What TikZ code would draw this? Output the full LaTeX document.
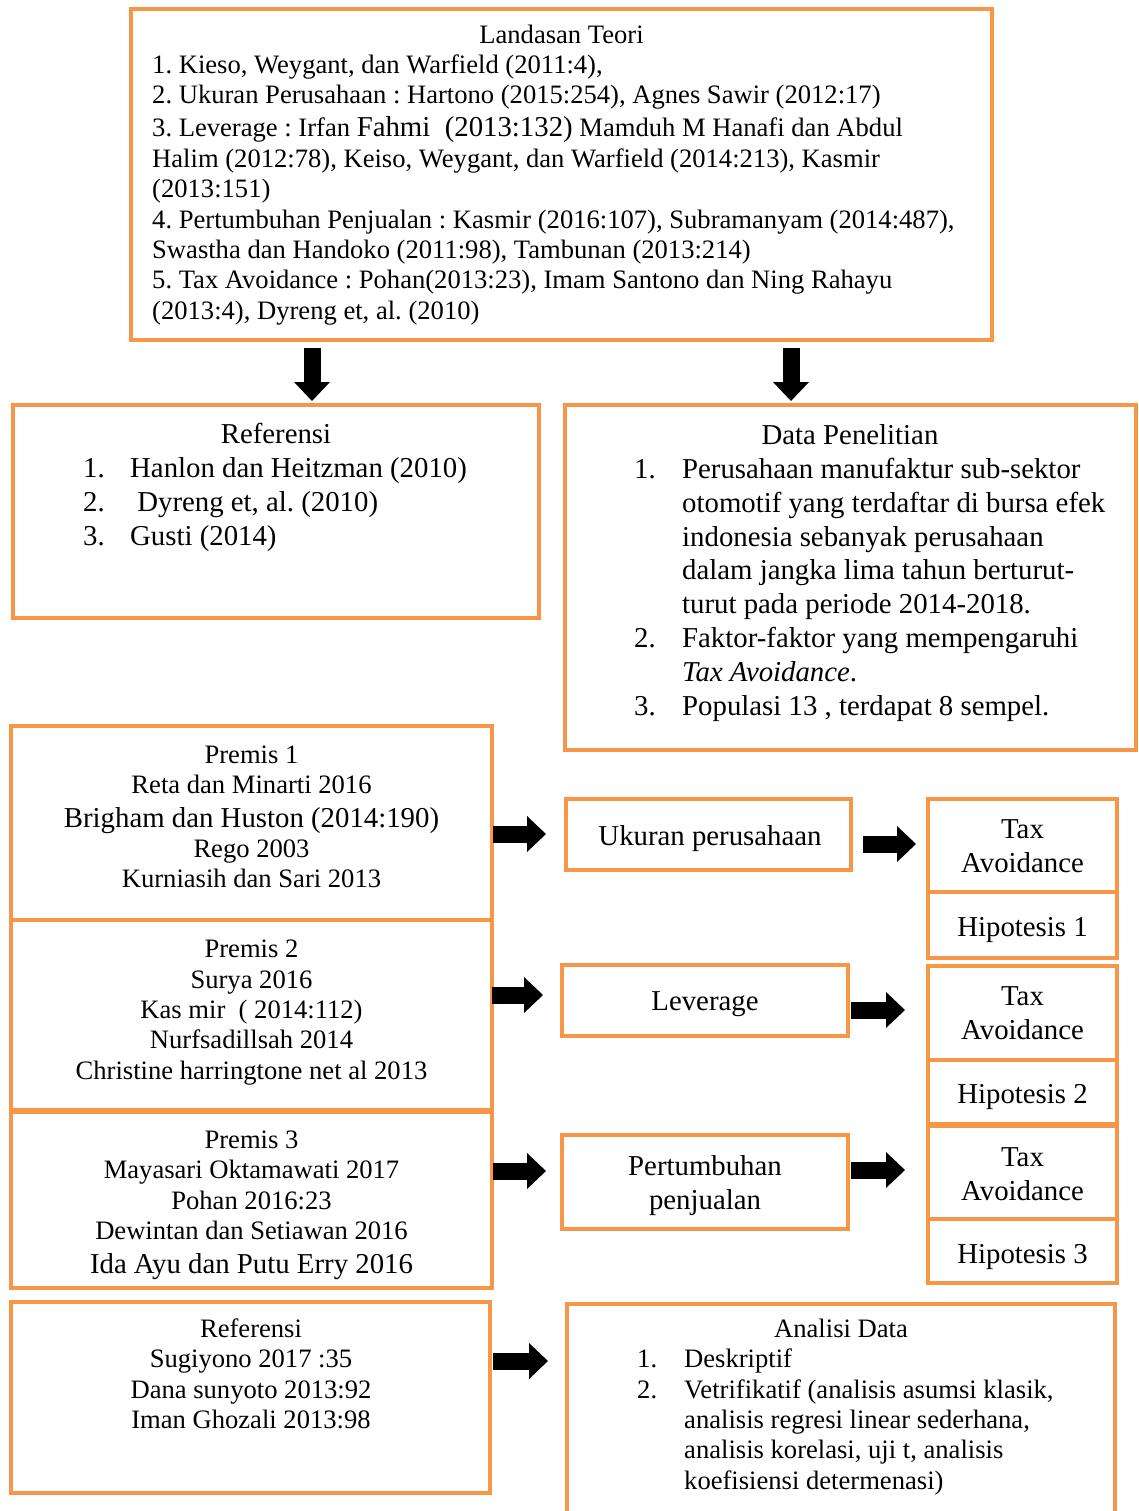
\documentclass[tikz,border=0pt]{standalone}
\usepackage{fontspec}
\setmainfont{Liberation Serif}
\usetikzlibrary{arrows.meta}
\definecolor{org}{RGB}{247,150,70}
\newcommand\fa{\rule{0pt}{20pt}}
\newcommand\fb{\rule{0pt}{22pt}}
\newcommand\bigf{\fontsize{28.8pt}{30.4pt}\selectfont}
\frenchspacing
\begin{document}
\frenchspacing
\begin{tikzpicture}[x=1pt,y=-1pt,
  box/.style={draw=org, line width=4pt, outer sep=0pt, inner sep=0pt, anchor=north west},
  ta/.style={inner sep=0pt, font=\fontsize{26.6pt}{30.4pt}\selectfont\frenchspacing},
  tb/.style={inner sep=0pt, font=\fontsize{28.8pt}{33.9pt}\selectfont\frenchspacing},
  blk/.style={line width=17pt, black, -{Triangle[length=19pt,width=36pt,line width=0pt]}}]
\useasboundingbox (0,0) rectangle (1138,1511);
\clip (0,0) rectangle (1138,1511);
% boxes
\node[box, minimum width=861pt, minimum height=331pt] (top) at (131,9) {};
\node[box, minimum width=526pt, minimum height=213pt] (ref1) at (13,405) {};
\node[box, minimum width=571pt, minimum height=345pt] (data) at (565,405) {};
\node[box, minimum width=481pt, minimum height=194pt] (p1) at (11,726) {};
\node[box, minimum width=481pt, minimum height=190pt] (p2) at (11,920) {};
\node[box, minimum width=481pt, minimum height=176pt] (p3) at (11,1112) {};
\node[box, minimum width=479pt, minimum height=191pt] (ref2) at (11,1302) {};
\node[box, minimum width=548pt, minimum height=226pt] (ana) at (567,1304) {};
\node[box, minimum width=285pt, minimum height=71pt] (uk) at (566,799) {};
\node[box, minimum width=286pt, minimum height=71pt] (lev) at (562,965) {};
\node[box, minimum width=286pt, minimum height=94pt] (pert) at (562,1135) {};
\node[box, minimum width=189pt, minimum height=93pt] (t1) at (928,799) {};
\node[box, minimum width=189pt, minimum height=66pt] (h1) at (928,892) {};
\node[box, minimum width=189pt, minimum height=94pt] (t2) at (928,966) {};
\node[box, minimum width=189pt, minimum height=64pt] (h2) at (928,1060) {};
\node[box, minimum width=189pt, minimum height=93pt] (t3) at (928,1126) {};
\node[box, minimum width=189pt, minimum height=64pt] (h3) at (928,1219) {};
% texts
\node[ta, anchor=north] (topT) at (561.5,23) {\fa Landasan Teori};
\node[ta, anchor=north west, align=left] (topL) at (152,53.4) {\fa 1. Kieso, Weygant, dan Warfield (2011:4),\\
2. Ukuran Perusahaan : Hartono (2015:254), Agnes Sawir (2012:17)\\[2.5pt]
3. Leverage : Irfan {\bigf Fahmi \ (2013:132)} Mamduh M Hanafi dan Abdul\\
Halim (2012:78), Keiso, Weygant, dan Warfield (2014:213), Kasmir\\
(2013:151)\\
4. Pertumbuhan Penjualan : Kasmir (2016:107), Subramanyam (2014:487),\\
Swastha dan Handoko (2011:98), Tambunan (2013:214)\\
5. Tax Avoidance : Pohan(2013:23), Imam Santono dan Ning Rahayu\\
(2013:4), Dyreng et, al. (2010)};
\node[tb, anchor=north] (r1T) at (276,421) {\fb Referensi};
\node[tb, anchor=north west, align=left] (r1L) at (83,455) {\fb\makebox[47pt][l]{1.}Hanlon dan Heitzman (2010)\\
\makebox[47pt][l]{2.}\ Dyreng et, al. (2010)\\
\makebox[47pt][l]{3.}Gusti (2014)};
\node[tb, anchor=north] (dT) at (850,422) {\fb Data Penelitian};
\node[tb, anchor=north west, align=left] (dL) at (634,456) {\fb\makebox[48pt][l]{1.}Perusahaan manufaktur sub-sektor\\
\hspace*{48pt}otomotif yang terdaftar di bursa efek\\
\hspace*{48pt}indonesia sebanyak perusahaan\\
\hspace*{48pt}dalam jangka lima tahun berturut-\\
\hspace*{48pt}turut pada periode 2014-2018.\\
\makebox[48pt][l]{2.}Faktor-faktor yang mempengaruhi\\
\hspace*{48pt}\textit{Tax Avoidance}.\\
\makebox[48pt][l]{3.}Populasi 13 , terdapat 8 sempel.};
\node[ta, anchor=north, align=center] (p1T) at (251.5,743) {\fa Premis 1\\
Reta dan Minarti 2016\\[3pt]
{\bigf Brigham dan Huston (2014:190)}\\
Rego 2003\\
Kurniasih dan Sari 2013};
\node[ta, anchor=north, align=center] (p2T) at (251.5,937.5) {\fa Premis 2\\
Surya 2016\\
Kas mir \ ( 2014:112)\\
Nurfsadillsah 2014\\
Christine harringtone net al 2013};
\node[ta, anchor=north, align=center] (p3T) at (251.5,1128.3) {\fa Premis 3\\
Mayasari Oktamawati 2017\\
Pohan 2016:23\\
Dewintan dan Setiawan 2016\\[3pt]
{\bigf Ida Ayu dan Putu Erry 2016}};
\node[ta, anchor=north, align=center] (r2T) at (251,1317) {\fa Referensi\\
Sugiyono 2017 :35\\
Dana sunyoto 2013:92\\
Iman Ghozali 2013:98};
\node[ta, anchor=north] (aT) at (841,1317) {\fa Analisi Data};
\node[ta, anchor=north west, align=left] (aL) at (637,1347.4) {\fa\makebox[47pt][l]{1.}Deskriptif\\
\makebox[47pt][l]{2.}Vetrifikatif (analisis asumsi klasik,\\
\hspace*{47pt}analisis regresi linear sederhana,\\
\hspace*{47pt}analisis korelasi, uji t, analisis\\
\hspace*{47pt}koefisiensi determenasi)};
\node[tb, anchor=north] (ukT) at (710,823) {\fb Ukuran perusahaan};
\node[tb, anchor=north] (levT) at (705,988) {\fb Leverage};
\node[tb, anchor=north, align=center] (pertT) at (705,1153) {\fb Pertumbuhan\\penjualan};
\node[tb, anchor=north, align=center] (t1T) at (1022.5,816) {\fb Tax\\Avoidance};
\node[tb, anchor=north] (h1T) at (1022.5,914) {\fb Hipotesis 1};
\node[tb, anchor=north, align=center] (t2T) at (1022.5,983) {\fb Tax\\Avoidance};
\node[tb, anchor=north] (h2T) at (1022.5,1081) {\fb Hipotesis 2};
\node[tb, anchor=north, align=center] (t3T) at (1022.5,1144) {\fb Tax\\Avoidance};
\node[tb, anchor=north] (h3T) at (1022.5,1241) {\fb Hipotesis 3};
% arrows
\coordinate (xL) at (312,0);
\coordinate (xR) at (791,0);
\coordinate (y1) at (0,834);
\coordinate (y2) at (0,844);
\coordinate (y3) at (0,995);
\coordinate (y4) at (0,1010);
\coordinate (y5) at (0,1171);
\coordinate (y6) at (0,1170);
\coordinate (y7) at (0,1361);
\draw[blk, shorten <=8pt, shorten >=4pt] (top.south -| xL) -- (ref1.north -| xL);
\draw[blk, shorten <=8pt, shorten >=4pt] (top.south -| xR) -- (data.north -| xR);
\draw[blk, shorten <=1pt, shorten >=20pt] (p1.east |- y1) -- (uk.west |- y1);
\draw[blk, shorten <=12pt, shorten >=12pt] (uk.east |- y2) -- (t1.west |- y2);
\draw[blk, shorten >=19pt] (p2.east |- y3) -- (lev.west |- y3);
\draw[blk, shorten <=3pt, shorten >=23pt] (lev.east |- y4) -- (t2.west |- y4);
\draw[blk, shorten <=1pt, shorten >=16pt] (p3.east |- y5) -- (pert.west |- y5);
\draw[blk, shorten <=3pt, shorten >=23pt] (pert.east |- y6) -- (t3.west |- y6);
\draw[blk, shorten <=3pt, shorten >=19pt] (ref2.east |- y7) -- (ana.west |- y7);
\end{tikzpicture}
\end{document}
